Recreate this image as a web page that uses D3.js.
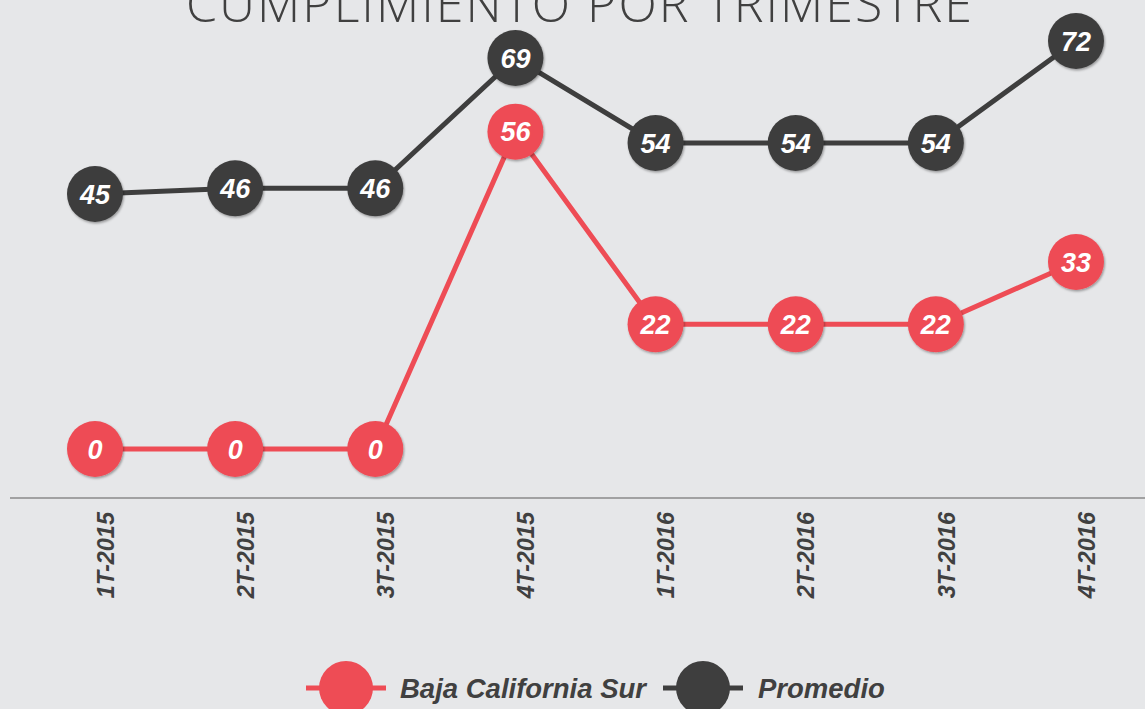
<!DOCTYPE html>
<html>
<head>
<meta charset="utf-8">
<script src="https://cdn.jsdelivr.net/npm/d3@7"></script>
<style>
  html, body { margin: 0; padding: 0; background: #e6e7e9; overflow: hidden; }
  svg { display: block; }
</style>
</head>
<body>
<div id="graph"></div>
<script>
var quarters = ['1T-2015', '2T-2015', '3T-2015', '4T-2015', '1T-2016', '2T-2016', '3T-2016', '4T-2016']
var bcs = [0, 0, 0, 56, 22, 22, 22, 33]
var promedio = [45, 46, 46, 69, 54, 54, 54, 72]

var seriesNames = ['Baja California Sur', 'Promedio']
var colors = ['#ee4c55', '#3e3e3e']

var width = 1145, height = 709

var svg = d3.select('#graph').append('svg')
  .attr('width', width)
  .attr('height', height)

var defs = svg.append('defs')
var f = defs.append('filter').attr('id', 'sh').attr('x', '-20%').attr('y', '-20%').attr('width', '150%').attr('height', '150%')
f.append('feDropShadow').attr('dx', 1).attr('dy', 1.5).attr('stdDeviation', 0.8).attr('flood-color', '#000').attr('flood-opacity', 0.35)

var x = d3.scalePoint().domain(quarters).range([95, 1076])
var y = d3.scaleLinear().domain([0, 72]).range([449, 41])

// title
svg.append('text')
  .attr('x', 580)
  .attr('y', 22)
  .attr('text-anchor', 'middle')
  .attr('textLength', 788)
  .attr('lengthAdjust', 'spacingAndGlyphs')
  .style('font-family', '"Open Sans", sans-serif')
  .style('font-weight', 300)
  .style('font-size', '50px')
  .style('letter-spacing', '2px')
  .style('fill', '#404040')
  .text('CUMPLIMIENTO POR TRIMESTRE')

// x axis
var xAxis = d3.axisBottom(x).tickSize(0).tickPadding(0)
var gx = svg.append('g').attr('transform', 'translate(0,498)').call(xAxis)
gx.select('.domain').remove()
gx.append('line').attr('x1', 10).attr('x2', width).attr('stroke', '#8a8a8a').attr('stroke-width', 1.5)
gx.selectAll('.tick text')
  .attr('transform', 'translate(10,14) rotate(-90)')
  .attr('x', 0).attr('y', 0).attr('dy', '0.35em')
  .attr('text-anchor', 'end')
  .style('font-family', '"Liberation Sans", Arial, sans-serif')
  .style('font-weight', 'bold')
  .style('font-style', 'italic')
  .style('font-size', '23.5px')
  .style('fill', '#404040')

var line = d3.line().x((d, i) => x(quarters[i])).y(d => y(d))

var series = [bcs, promedio]
series.forEach(function(vals, si){
  var g = svg.append('g')
  g.append('path')
    .datum(vals)
    .attr('d', line)
    .attr('fill', 'none')
    .attr('stroke', colors[si])
    .attr('stroke-width', 5)

  var pts = g.selectAll('g.pt').data(vals).join('g')
    .attr('class', 'pt')
    .attr('transform', (d, i) => 'translate(' + x(quarters[i]) + ',' + y(d) + ')')

  pts.append('circle')
    .attr('r', 28)
    .attr('fill', colors[si])
    .attr('filter', 'url(#sh)')

  pts.append('text')
    .attr('text-anchor', 'middle')
    .attr('dy', '0.36em')
    .style('font-family', '"Liberation Sans", Arial, sans-serif')
    .style('font-weight', 'bold')
    .style('font-style', 'italic')
    .style('font-size', '27px')
    .style('fill', '#fff')
    .text(d => d)
})

// legend
var legendItems = [
  {name: seriesNames[0], color: colors[0], cx: 346, tx: 400},
  {name: seriesNames[1], color: colors[1], cx: 703, tx: 758}
]
var lg = svg.append('g').attr('transform', 'translate(0,688)')
legendItems.forEach(function(d){
  lg.append('line')
    .attr('x1', d.cx - 40).attr('x2', d.cx + 40)
    .attr('stroke', d.color).attr('stroke-width', 5)
  lg.append('circle').attr('cx', d.cx).attr('r', 27).attr('fill', d.color)
  lg.append('text')
    .attr('x', d.tx)
    .attr('dy', '0.36em')
    .style('font-family', '"Liberation Sans", Arial, sans-serif')
    .style('font-weight', 'bold')
    .style('font-style', 'italic')
    .style('font-size', '27.5px')
    .style('fill', '#404040')
    .text(d.name)
})
</script>
</body>
</html>
